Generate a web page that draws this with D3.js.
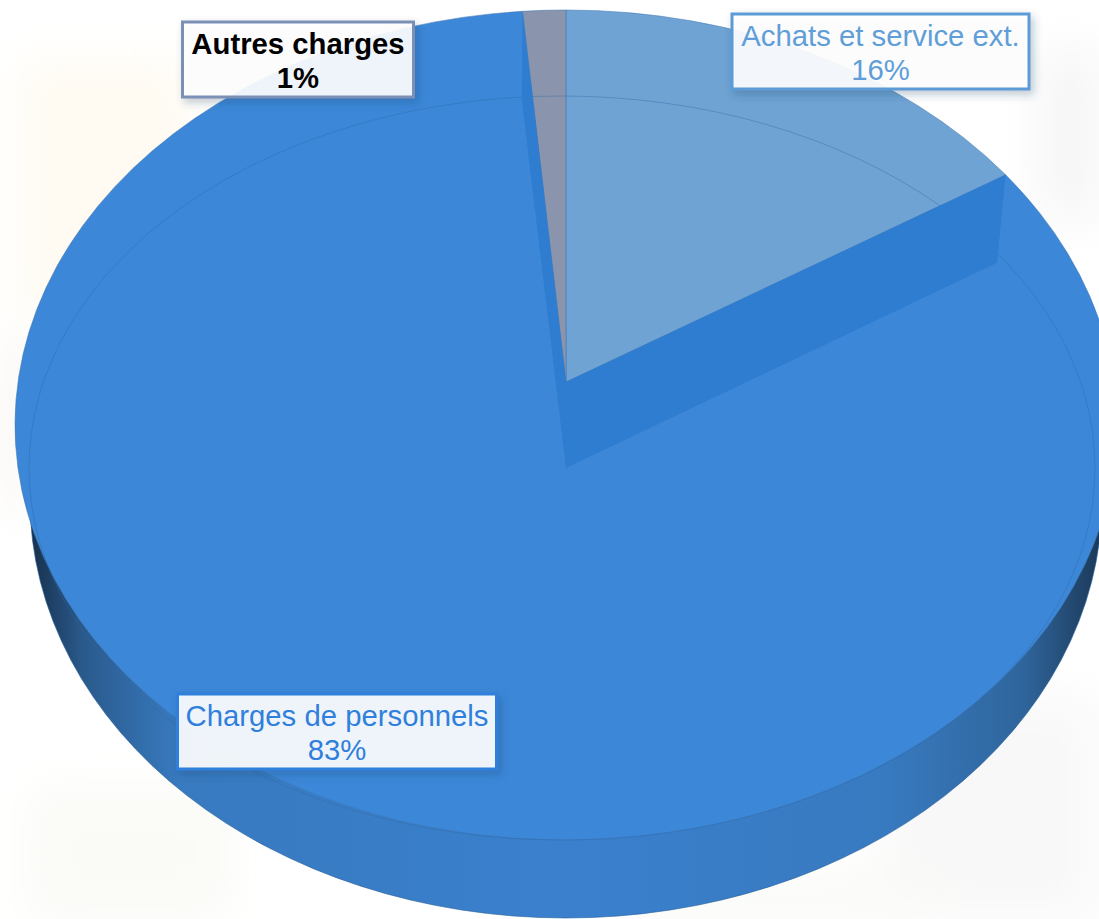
<!DOCTYPE html>
<html>
<head>
<meta charset="utf-8">
<style>
  html, body { margin: 0; padding: 0; background: #fff; overflow: hidden; }
  text { font-family: "Liberation Sans", Arial, sans-serif; font-size: 29.3px; text-anchor: middle; }
</style>
<script src="https://cdn.jsdelivr.net/npm/d3@7"></script>
</head>
<body>
<div id="chart"></div>
<script>
// Chart data, clockwise from twelve o'clock
var categories = ["Achats et service ext.", "Charges de personnels", "Autres charges"];
var shares = [16.1, 82.5, 1.4];

// Size of the page
var width = 1099,
    height = 919;

// The three ellipses of the 3D pie
var faceEllipse = {cx: 566, cy: 425, rx: 551, ry: 415},
    innerEllipse = {cx: 562, cy: 468, rx: 533, ry: 372},
    sideEllipse = {cx: 566, cy: 500, rx: 536, ry: 418};

// Where the slices meet, the top one and the one at the foot of the step
var apex = {x: 566, y: 382},
    stepApex = {x: 566, y: 468},
    stepDepth = 88;

// Look of each slice and of its label box
var sliceStyle = [
  {fill: "#6fa3d3", text: "#5f9ed8", box: "#5b9bd5", weight: "normal", cx: 880.5, top: 14, w: 297, base: 46},
  {fill: "#3c87d8", text: "#2f80dc", box: "#2f80dc", weight: "normal", cx: 337, top: 694, w: 319, base: 726},
  {fill: "#8a94ad", text: "#000000", box: "#7b8fb5", weight: "bold", cx: 298, top: 22, w: 231, base: 54}
];

var svg = d3.select("#chart").append("svg")
    .attr("width", width)
    .attr("height", height)
    .style("display", "block");

var defs = svg.append("defs");

defs.append("filter").attr("id", "soft")
    .attr("x", "-40%").attr("y", "-40%").attr("width", "180%").attr("height", "180%")
  .append("feGaussianBlur").attr("stdDeviation", 24);

var shadow = defs.append("filter").attr("id", "boxShadow")
    .attr("x", "-10%").attr("y", "-20%").attr("width", "125%").attr("height", "150%");
shadow.append("feDropShadow")
    .attr("dx", 3).attr("dy", 4).attr("stdDeviation", 4)
    .attr("flood-color", "#1d3f66").attr("flood-opacity", 0.3);

// Side of the pie is dark at both ends
var sideGradient = defs.append("linearGradient").attr("id", "side")
    .attr("gradientUnits", "userSpaceOnUse")
    .attr("x1", 30).attr("x2", 1099).attr("y1", 0).attr("y2", 0);
[[0, "#17304c"], [0.05, "#2a5a8c"], [0.14, "#387ac0"], [0.5, "#3a80cd"],
 [0.8, "#387ac0"], [0.93, "#2f659c"], [1, "#1c3a5a"]].forEach(function(s) {
  sideGradient.append("stop").attr("offset", s[0]).attr("stop-color", s[1]);
});

// Faint washed out picture behind the chart
var backdrop = svg.append("g").attr("filter", "url(#soft)");
[
  [20, 60, 170, 260, "#fffbf2"],
  [0, 340, 30, 170, "#f8f6f3"],
  [1040, 50, 60, 170, "#f5f5f5"],
  [30, 790, 200, 129, "#fafbf6"],
  [880, 700, 219, 219, "#f8f8f8"],
  [640, 880, 300, 39, "#f9fbf6"]
].forEach(function(r) {
  backdrop.append("rect")
      .attr("x", r[0]).attr("y", r[1]).attr("width", r[2]).attr("height", r[3])
      .attr("fill", r[4]);
});

var pie = d3.pie().sort(null).value(function(d) { return d; });
var arcs = pie(shares);

// Point of the ellipse hit by a ray leaving the apex at the given pie angle
function rimPoint(angle, e, from) {
  var ox = (from.x - e.cx) / e.rx,
      oy = (from.y - e.cy) / e.ry,
      dx = Math.sin(angle),
      dy = -Math.cos(angle),
      b = ox * dx + oy * dy,
      s = -b + Math.sqrt(b * b - (ox * ox + oy * oy - 1));
  return {x: e.cx + (ox + s * dx) * e.rx, y: e.cy + (oy + s * dy) * e.ry};
}

function wedgePath(d) {
  var a = rimPoint(d.startAngle, faceEllipse, apex),
      b = rimPoint(d.endAngle, faceEllipse, apex),
      large = d.endAngle - d.startAngle > Math.PI ? 1 : 0;
  return "M" + apex.x + "," + apex.y + "L" + a.x + "," + a.y +
      "A" + faceEllipse.rx + "," + faceEllipse.ry + " 0 " + large + " 1 " + b.x + "," + b.y + "Z";
}

// Side of the pie
svg.append("ellipse")
    .attr("cx", sideEllipse.cx).attr("cy", sideEllipse.cy)
    .attr("rx", sideEllipse.rx).attr("ry", sideEllipse.ry)
    .attr("fill", "url(#side)")
    .attr("stroke", "#2a5f98").attr("stroke-width", 0.6);

// Top faces, the big slice first
svg.append("g").selectAll("path")
    .data([arcs[1], arcs[0], arcs[2]])
  .enter().append("path")
    .attr("d", wedgePath)
    .attr("fill", function(d) { return sliceStyle[d.index].fill; })
    .attr("stroke", "#3f78b4")
    .attr("stroke-opacity", 0.55)
    .attr("stroke-width", 1);

// Thin line of the bevel
svg.append("ellipse")
    .attr("cx", innerEllipse.cx).attr("cy", innerEllipse.cy)
    .attr("rx", innerEllipse.rx).attr("ry", innerEllipse.ry)
    .attr("fill", "none")
    .attr("stroke", "#2c68a8")
    .attr("stroke-opacity", 0.4)
    .attr("stroke-width", 1);

// Walls of the step along both edges of the big slice
svg.append("g").selectAll("path")
    .data([arcs[1].startAngle, arcs[1].endAngle])
  .enter().append("path")
    .attr("d", function(angle) {
      var top = rimPoint(angle, faceEllipse, apex),
          foot = {x: top.x - 10 * Math.abs(Math.sin(angle)), y: top.y + stepDepth};
      return "M" + apex.x + "," + apex.y + "L" + stepApex.x + "," + stepApex.y +
          "L" + foot.x + "," + foot.y + "L" + top.x + "," + top.y + "Z";
    })
    .attr("fill", "#2f7dd0");

// Label boxes
var boxHeight = 75;

var label = svg.append("g").selectAll("g")
    .data(arcs)
  .enter().append("g");

label.append("rect")
    .attr("x", function(d) { return sliceStyle[d.index].cx - sliceStyle[d.index].w / 2; })
    .attr("y", function(d) { return sliceStyle[d.index].top; })
    .attr("width", function(d) { return sliceStyle[d.index].w; })
    .attr("height", boxHeight)
    .attr("fill", "#ffffff")
    .attr("fill-opacity", 0.91)
    .attr("stroke", function(d) { return sliceStyle[d.index].box; })
    .attr("stroke-width", 3)
    .attr("filter", "url(#boxShadow)");

label.append("text")
    .attr("x", function(d) { return sliceStyle[d.index].cx; })
    .attr("y", function(d) { return sliceStyle[d.index].base; })
    .attr("fill", function(d) { return sliceStyle[d.index].text; })
    .attr("font-weight", function(d) { return sliceStyle[d.index].weight; })
    .text(function(d) { return categories[d.index]; });

label.append("text")
    .attr("x", function(d) { return sliceStyle[d.index].cx; })
    .attr("y", function(d) { return sliceStyle[d.index].base + 34; })
    .attr("fill", function(d) { return sliceStyle[d.index].text; })
    .attr("font-weight", function(d) { return sliceStyle[d.index].weight; })
    .text(function(d) { return Math.round(d.value) + "%"; });
</script>
</body>
</html>
